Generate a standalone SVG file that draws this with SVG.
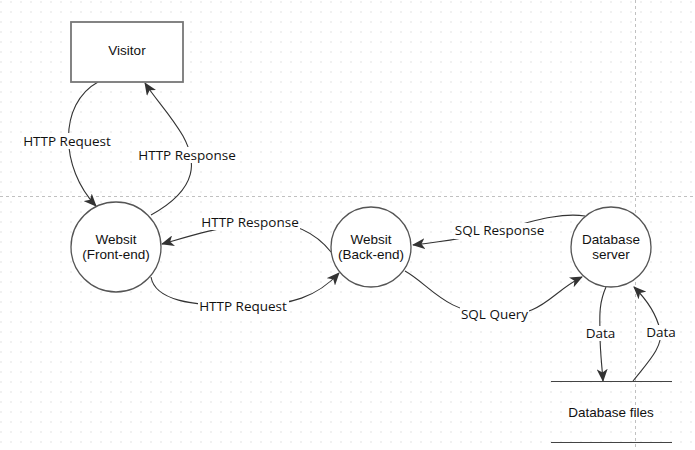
<svg xmlns="http://www.w3.org/2000/svg" width="695" height="450" viewBox="0 0 695 450">
<defs>
<pattern id="grid" x="0" y="0" width="10" height="10" patternUnits="userSpaceOnUse">
<rect x="0.5" y="1.5" width="1" height="1" fill="#c8c8c8"/>
</pattern>
<marker id="arr" markerUnits="userSpaceOnUse" markerWidth="13" markerHeight="11" viewBox="0 0 13 11" refX="12" refY="5.5" orient="auto">
<path d="M0,0 L13,5.5 L0,11 L3.5,5.5 Z" fill="#333"/>
</marker>
<style>
.node{fill:#fff;stroke:#555;stroke-width:1.3}
.box{fill:#fff;stroke:#777;stroke-width:1.8}
.nt{font-family:"Liberation Sans",Arial,sans-serif;font-size:13.5px;fill:#111;text-anchor:middle}
.edge{fill:none;stroke:#333;stroke-width:1.1;marker-end:url(#arr)}
.lb{fill:#fff}
.lt{font-family:"Open Sans","Noto Sans",sans-serif;font-size:13.5px;fill:#111;text-anchor:middle}
.pg{stroke:#c0c0c0;stroke-width:1;stroke-dasharray:3,3;fill:none}
</style>
</defs>
<rect width="695" height="450" fill="#fff"/>
<rect width="695" height="450" fill="url(#grid)"/>
<line class="pg" x1="0" y1="196.5" x2="695" y2="196.5"/>
<line class="pg" x1="635.5" y1="0" x2="635.5" y2="450"/>

<g id="connectors">
<path class="edge" d="M98,82 C58,104 60,168 96,206"/>
<path class="edge" d="M151,215 C200,188 196,160 183,136 C170,114 156,100 145,83"/>
<path class="edge" d="M331,252 C315,232 290,219 252,223 C215,228 190,236 162,244"/>
<path class="edge" d="M151,277 C155,300 190,306 243,306 C292,306 318,296 339,273"/>
<path class="edge" d="M585,216 C560,212 530,222 499,230 C470,238 440,242 413,245"/>
<path class="edge" d="M405,271 C430,285 445,313 494,315 C545,317 548,294 582,277"/>
<path class="edge" d="M606,287 C598,305 600,320 600,334 C600,352 602,366 603,381"/>
<path class="edge" d="M633,381 C648,362 664,346 660,330 C656,312 646,299 634,287"/>
<g id="labels">
<rect class="lb" x="21" y="133" width="92" height="16"/>
<text class="lt" x="67" y="145.5">HTTP Request</text>
<rect class="lb" x="137" y="147" width="100" height="16"/>
<text class="lt" x="187" y="159.5">HTTP Response</text>
<rect class="lb" x="200" y="214" width="100" height="16"/>
<text class="lt" x="250" y="226.5">HTTP Response</text>
<rect class="lb" x="198" y="298" width="91" height="16"/>
<text class="lt" x="243" y="310.5">HTTP Request</text>
<rect class="lb" x="454" y="223" width="91" height="16"/>
<text class="lt" x="499.5" y="235">SQL Response</text>
<rect class="lb" x="460" y="307" width="69" height="16"/>
<text class="lt" x="494.5" y="319">SQL Query</text>
<rect class="lb" x="585" y="326" width="31" height="15"/>
<text class="lt" x="600.5" y="337.5">Data</text>
<rect class="lb" x="646" y="325" width="31" height="15"/>
<text class="lt" x="661" y="337">Data</text>
</g>
</g>

<g id="visitor">
<rect class="box" x="71" y="22" width="112" height="60"/>
<text class="nt" x="127" y="55">Visitor</text>
</g>
<g id="frontend">
<circle class="node" cx="116" cy="247" r="45"/>
<text class="nt" x="116" y="243.5">Websit</text>
<text class="nt" x="116" y="258.5">(Front-end)</text>
</g>
<g id="backend">
<circle class="node" cx="371" cy="247" r="40"/>
<text class="nt" x="371" y="243.5">Websit</text>
<text class="nt" x="371" y="258.5">(Back-end)</text>
</g>
<g id="dbserver">
<circle class="node" cx="611" cy="247" r="40"/>
<text class="nt" x="611" y="243.5">Database</text>
<text class="nt" x="611" y="258.5">server</text>
</g>
<g id="dbfiles">
<line x1="551" y1="381.5" x2="672" y2="381.5" stroke="#444" stroke-width="1.2"/>
<line x1="551" y1="442.5" x2="672" y2="442.5" stroke="#444" stroke-width="1.2"/>
<text class="nt" x="611" y="417">Database files</text>
</g>
</svg>
